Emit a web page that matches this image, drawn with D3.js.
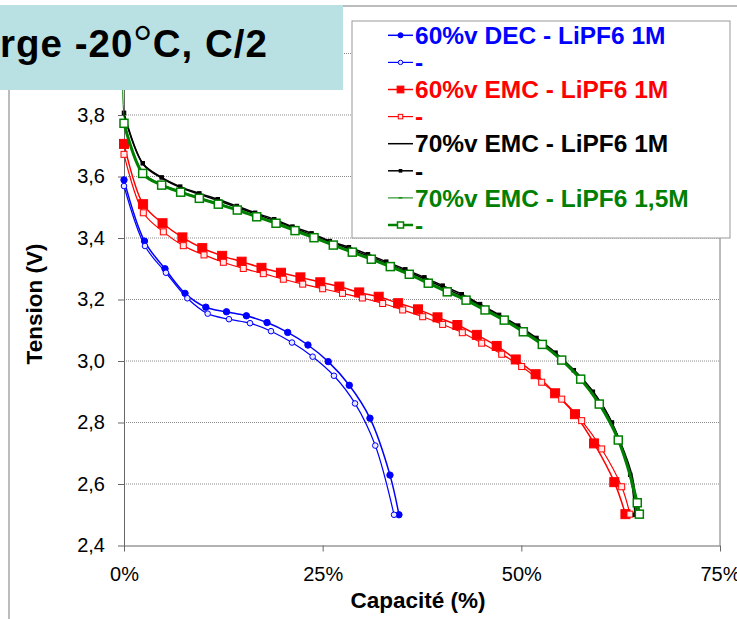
<!DOCTYPE html>
<html>
<head>
<meta charset="utf-8">
<script src="https://cdn.jsdelivr.net/npm/d3@7"></script>
<style>
  body { margin: 0; background: #fff; }
  svg { display: block; font-family: "Liberation Sans", Arial, sans-serif; }
</style>
</head>
<body>
<script>
// Discharge curves at -20°C, C/2 : capacity (%) vs tension (V)

// 60%v DEC - LiPF6 1M (two cells)
const decCapA = [0, 2.58, 5.16, 7.68, 10.3, 12.9, 15.4, 18.0, 20.6, 23.15, 25.7, 28.35, 30.95, 33.47, 34.6];
const decVA   = [3.589, 3.39, 3.30, 3.22, 3.175, 3.16, 3.147, 3.125, 3.093, 3.052, 2.998, 2.921, 2.814, 2.629, 2.50];
const decCapB = [0, 2.64, 5.28, 7.97, 10.53, 13.21, 15.86, 18.5, 21.14, 23.74, 26.42, 29.07, 31.62, 33.98];
const decVB   = [3.569, 3.374, 3.287, 3.204, 3.154, 3.136, 3.123, 3.097, 3.06, 3.014, 2.952, 2.862, 2.725, 2.50];

// 60%v EMC - LiPF6 1M (two cells)
const emc60CapA = [0, 2.4, 4.85, 7.35, 9.85, 12.35, 14.8, 17.3, 19.75, 22.2, 24.7, 27.1, 29.6, 32.05, 34.5, 37.0, 39.45, 41.95, 44.4, 46.9, 49.3, 51.8, 54.25, 56.75, 59.15, 61.7, 63.1];
const emc60VA   = [3.706, 3.51, 3.448, 3.402, 3.367, 3.342, 3.323, 3.303, 3.287, 3.272, 3.256, 3.242, 3.223, 3.209, 3.188, 3.168, 3.142, 3.117, 3.085, 3.049, 3.005, 2.957, 2.895, 2.827, 2.732, 2.606, 2.502];
const emc60CapB = [0, 2.43, 4.95, 7.46, 10.07, 12.5, 15.01, 17.53, 20.05, 22.49, 25.0, 27.5, 30.0, 32.55, 35.07, 37.59, 40.1, 42.57, 45.01, 47.53, 50.04, 52.56, 55.08, 57.59, 60.11, 62.63, 63.67];
const emc60VB   = [3.672, 3.482, 3.42, 3.375, 3.345, 3.321, 3.301, 3.284, 3.266, 3.25, 3.235, 3.22, 3.205, 3.187, 3.166, 3.144, 3.119, 3.092, 3.058, 3.022, 2.982, 2.931, 2.876, 2.806, 2.714, 2.591, 2.502];

// 70%v EMC - LiPF6 1M (two cells)
const emc70CapA = [0, 2.4, 4.8, 7.2, 9.6, 12.0, 14.4, 16.8, 19.2, 21.6, 24.0, 26.4, 28.8, 31.2, 33.6, 36.0, 38.4, 40.8, 43.2, 45.6, 48.0, 50.4, 52.8, 55.2, 57.6, 60.0, 62.4, 64.0, 64.5];
const emc70VA   = [3.80, 3.64, 3.594, 3.563, 3.541, 3.52, 3.498, 3.476, 3.454, 3.43, 3.406, 3.383, 3.36, 3.337, 3.312, 3.287, 3.26, 3.232, 3.203, 3.17, 3.135, 3.097, 3.055, 3.005, 2.945, 2.865, 2.74, 2.62, 2.50];
const emc70CapB = [0, 2.36, 4.74, 7.07, 9.48, 11.8, 14.2, 16.5, 18.9, 21.2, 23.6, 25.9, 28.3, 30.7, 33.0, 35.4, 37.8, 40.1, 42.5, 44.8, 47.2, 49.6, 51.9, 54.3, 56.6, 59.0, 61.4, 63.7, 64.3];
const emc70VB   = [3.807, 3.643, 3.597, 3.567, 3.545, 3.526, 3.504, 3.482, 3.461, 3.437, 3.415, 3.39, 3.37, 3.347, 3.323, 3.298, 3.272, 3.245, 3.217, 3.185, 3.15, 3.115, 3.075, 3.027, 2.97, 2.9, 2.8, 2.63, 2.50];

// 70%v EMC - LiPF6 1,5M (two cells)
const emc70hCapA = [0, 0.1, 2.4, 4.8, 7.2, 9.6, 12.0, 14.4, 16.8, 19.2, 21.6, 24.0, 26.4, 28.8, 31.2, 33.6, 36.0, 38.4, 40.8, 43.2, 45.6, 48.0, 50.4, 52.8, 55.2, 57.6, 60.0, 62.4, 64.7];
const emc70hVA   = [4.05, 3.78, 3.614, 3.575, 3.551, 3.531, 3.512, 3.492, 3.471, 3.45, 3.426, 3.403, 3.379, 3.356, 3.333, 3.309, 3.283, 3.255, 3.226, 3.199, 3.167, 3.134, 3.096, 3.054, 3.003, 2.941, 2.857, 2.737, 2.50];
const emc70hCapB = [0, 2.35, 4.74, 7.13, 9.48, 11.87, 14.26, 16.7, 19.13, 21.52, 23.91, 26.34, 28.73, 31.12, 33.51, 35.9, 38.29, 40.68, 43.04, 45.43, 47.85, 50.25, 52.64, 55.08, 57.47, 59.81, 62.2, 64.59, 64.85];
const emc70hVB   = [3.773, 3.61, 3.572, 3.549, 3.529, 3.51, 3.491, 3.469, 3.448, 3.424, 3.401, 3.377, 3.354, 3.331, 3.307, 3.282, 3.253, 3.225, 3.198, 3.166, 3.133, 3.095, 3.054, 3.003, 2.941, 2.86, 2.743, 2.539, 2.502];

const seriesLabels = ['60%v DEC - LiPF6 1M', '-', '60%v EMC - LiPF6 1M', '-',
                      '70%v EMC - LiPF6 1M', '-', '70%v EMC - LiPF6 1,5M', '-'];
const xTicks = [0, 25, 50, 75];
const yTicks = [2.4, 2.6, 2.8, 3.0, 3.2, 3.4, 3.6, 3.8, 4.0];

// series table, in legend order
const series = [
  [decCapA, decVA], [decCapB, decVB],
  [emc60CapA, emc60VA], [emc60CapB, emc60VB],
  [emc70CapA, emc70VA], [emc70CapB, emc70VB],
  [emc70hCapA, emc70hVA], [emc70hCapB, emc70hVB]
].map((s, i) => ({ label: seriesLabels[i], pts: s[0].map((c, j) => [c, s[1][j]]) }));

// look of each series (same order)
const looks = [
  { color: '#0000ff', text: '#0000ff', w: 1.5, marker: 'circle', size: 3.2, fill: '#0000ff' },
  { color: '#0000ff', text: '#0000ff', w: 1.2, marker: 'circle', size: 2.8, fill: '#e8e8ff' },
  { color: '#ff0000', text: '#ff0000', w: 1.5, marker: 'square', size: 9, fill: '#ff0000' },
  { color: '#ff0000', text: '#ff0000', w: 1.2, marker: 'square', size: 6, fill: '#ffe8e8' },
  { color: '#000000', text: '#000000', w: 1.5, marker: null },
  { color: '#000000', text: '#000000', w: 1.5, marker: 'square', size: 3.5, fill: '#000000' },
  { color: '#008000', text: '#008000', w: 1, marker: 'dash', size: 5 },
  { color: '#008000', text: '#008000', w: 3, marker: 'square', size: 8, fill: '#ffffff' }
];

const W = 737, H = 619;
const svg = d3.select('body').append('svg')
  .attr('width', W)
  .attr('height', H);

const x = d3.scaleLinear().domain([0, 75]).range([124, 720]);
const y = d3.scaleLinear().domain([2.4, 4.0]).range([545.5, 53.5]);

// outer chart frame
svg.append('rect')
  .attr('x', 9).attr('y', 6)
  .attr('width', 800).attr('height', 700)
  .attr('fill', 'none')
  .attr('stroke', '#a6a6a6')
  .attr('stroke-width', 1.5);

// dotted gridlines
svg.append('g').selectAll('line')
  .data(yTicks.slice(1))
  .enter().append('line')
  .attr('x1', x(0)).attr('x2', x(75))
  .attr('y1', d => y(d)).attr('y2', d => y(d))
  .attr('stroke', '#8c8c8c')
  .attr('stroke-dasharray', '1,1');

// plot frame right side
svg.append('line')
  .attr('x1', x(75)).attr('x2', x(75))
  .attr('y1', y(4.0)).attr('y2', y(2.4))
  .attr('stroke', '#777');

// axes (the 4,0 label sits under the title box, so it is left empty)
const fmtV = d => d >= 4 ? '' : d3.format('.1f')(d).replace('.', ',');
const yAxis = svg.append('g')
  .attr('transform', `translate(${x(0)},0)`)
  .call(d3.axisLeft(y).tickValues(yTicks).tickFormat(fmtV).tickSize(6).tickSizeOuter(0).tickPadding(13));
const xAxis = svg.append('g')
  .attr('transform', `translate(0,${y(2.4)})`)
  .call(d3.axisBottom(x).tickValues(xTicks).tickFormat(d => d + '%').tickSize(6).tickSizeOuter(0).tickPadding(15));
[yAxis, xAxis].forEach(a => {
  a.selectAll('path, line').attr('stroke', '#666');
  a.selectAll('text')
    .attr('fill', '#000')
    .style('font-size', '20px')
    .style('font-family', '"Liberation Sans", Arial, sans-serif');
});

// axis titles
svg.append('text')
  .attr('x', 418).attr('y', 608)
  .attr('text-anchor', 'middle')
  .attr('font-size', '22.5px')
  .attr('font-weight', 'bold')
  .text('Capacité (%)');

svg.append('text')
  .attr('transform', 'translate(42,304) rotate(-90)')
  .attr('text-anchor', 'middle')
  .attr('font-size', '22.5px')
  .attr('font-weight', 'bold')
  .text('Tension (V)');

// marker drawing
function drawMarker(sel, look) {
  if (look.marker === 'circle') {
    sel.append('circle').attr('r', look.size)
      .attr('fill', look.fill).attr('stroke', look.color).attr('stroke-width', 1);
  } else if (look.marker === 'square') {
    sel.append('rect')
      .attr('x', -look.size / 2).attr('y', -look.size / 2)
      .attr('width', look.size).attr('height', look.size)
      .attr('fill', look.fill).attr('stroke', look.color)
      .attr('stroke-width', look.fill === '#ffffff' ? 1.5 : 1);
  } else if (look.marker === 'dash') {
    sel.append('line')
      .attr('x1', -look.size / 2).attr('x2', look.size / 2)
      .attr('stroke', look.color).attr('stroke-width', 1.2);
  }
}

// curves (Excel smoothed lines)
const line = d3.line()
  .x(d => x(d[0]))
  .y(d => y(d[1]))
  .curve(d3.curveCatmullRom.alpha(0.5));

const plot = svg.append('g');
series.forEach((s, i) => {
  const look = looks[i];
  const g = plot.append('g');
  g.append('path')
    .datum(s.pts)
    .attr('d', line)
    .attr('fill', 'none')
    .attr('stroke', look.color)
    .attr('stroke-width', look.w);
  if (look.marker) {
    g.selectAll('g.m')
      .data(s.pts.filter(d => d[1] <= 4.0))
      .enter().append('g')
      .attr('class', 'm')
      .attr('transform', d => `translate(${x(d[0])},${y(d[1])})`)
      .each(function () { drawMarker(d3.select(this), look); });
  }
});

// title box (partly out of frame, as on the slide)
svg.append('rect')
  .attr('x', 0).attr('y', 5)
  .attr('width', 343).attr('height', 85)
  .attr('fill', '#b9e1e4');

const title = svg.append('text')
  .attr('x', 0).attr('y', 57)
  .attr('font-size', '38.5px')
  .attr('font-weight', 'bold')
  .attr('fill', '#000')
  .attr('textLength', 267)
  .attr('lengthAdjust', 'spacing');
title.append('tspan').text('rge -20');
title.append('tspan')
  .attr('font-family', '"Liberation Serif", "Times New Roman", serif')
  .attr('font-weight', 'normal')
  .attr('font-size', '46px')
  .text('°');
title.append('tspan').text('C, C/2');

// legend
const legend = svg.append('g');
legend.append('rect')
  .attr('x', 352).attr('y', 21)
  .attr('width', 378).attr('height', 217)
  .attr('fill', '#fff')
  .attr('stroke', '#999');

const rowY = d3.scaleLinear().domain([0, 7]).range([35.3, 225]);
series.forEach((s, i) => {
  const look = looks[i];
  const row = legend.append('g').attr('transform', `translate(0,${rowY(i)})`);
  row.append('line')
    .attr('x1', 388).attr('x2', 413)
    .attr('stroke', look.color)
    .attr('stroke-width', Math.min(look.w, 2.5));
  if (look.marker) {
    const m = row.append('g').attr('transform', 'translate(400.5,0)');
    drawMarker(m, Object.assign({}, look, { size: look.marker === 'circle' ? look.size * 0.8 : look.size * 0.75 }));
  }
  row.append('text')
    .attr('x', 415).attr('y', 8.7)
    .attr('font-size', '24.5px')
    .attr('font-weight', 'bold')
    .attr('fill', look.text)
    .text(s.label);
});
</script>
</body>
</html>
